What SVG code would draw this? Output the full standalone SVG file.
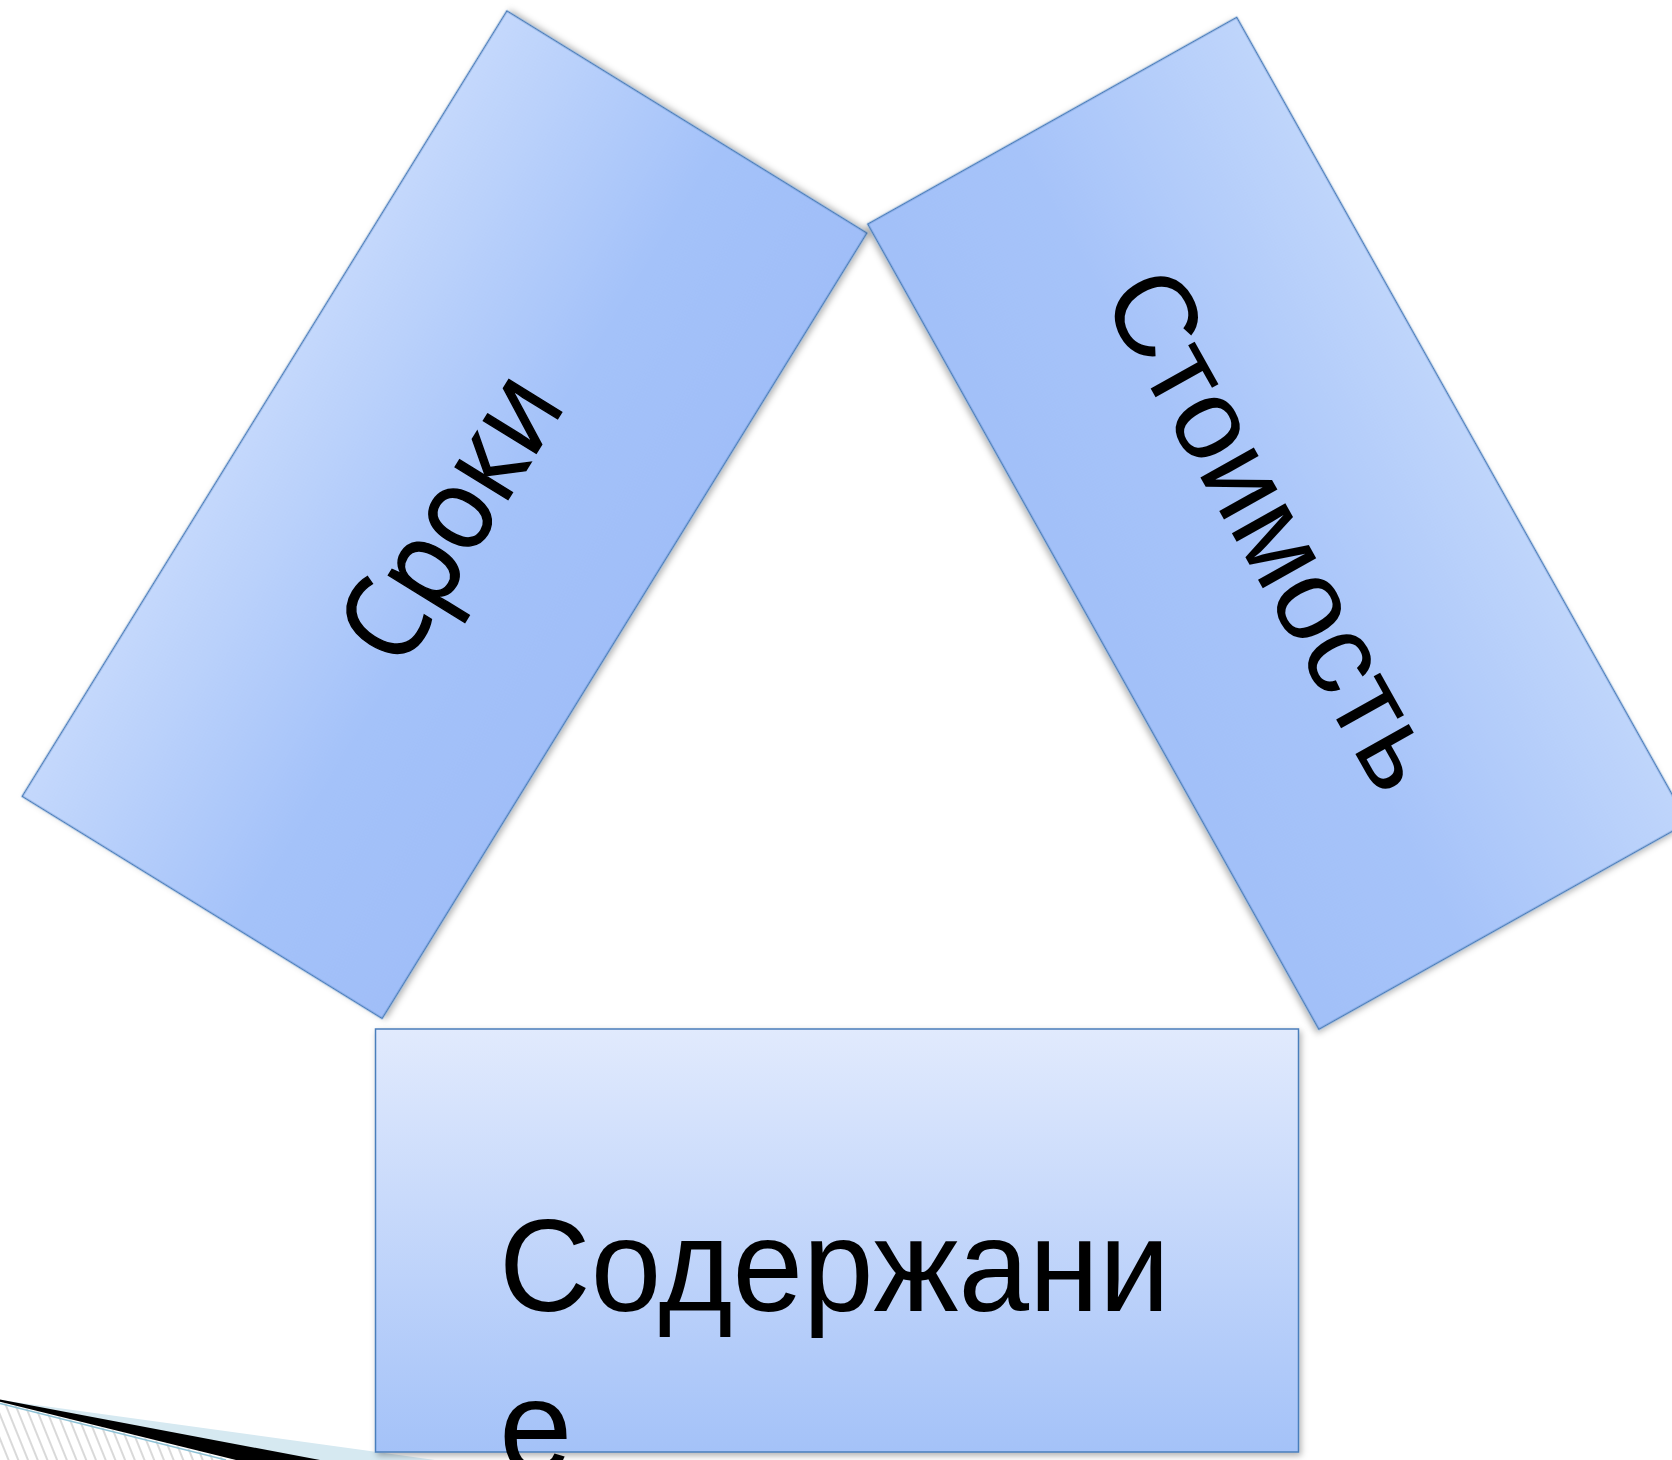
<svg xmlns="http://www.w3.org/2000/svg" width="1672" height="1460" viewBox="0 0 1672 1460">
  <style>
    .box { stroke: #4a7ebb; stroke-width: 1.5; }
    .lbl { fill: #000000; }
    .calib { font-family: "Open Sans", "Noto Sans", "DejaVu Sans", sans-serif; }
    .arial { font-family: "Liberation Sans", Arial, sans-serif; }
  </style>
  <defs>
    <linearGradient id="gRotA" x1="0" y1="0" x2="0" y2="1">
      <stop offset="0" stop-color="#c4d8fc"/>
      <stop offset="0.6" stop-color="#a4c2f9"/>
      <stop offset="1" stop-color="#a0bef8"/>
    </linearGradient>
    <linearGradient id="gRotB" x1="0" y1="0" x2="0" y2="1">
      <stop offset="0" stop-color="#bfd5fb"/>
      <stop offset="0.6" stop-color="#a6c3f9"/>
      <stop offset="1" stop-color="#a2c0f8"/>
    </linearGradient>
    <linearGradient id="gFlat" x1="0" y1="0" x2="0" y2="1">
      <stop offset="0" stop-color="#e1eafd"/>
      <stop offset="1" stop-color="#a4c2f8"/>
    </linearGradient>
    <filter id="shadow" x="-10%" y="-10%" width="120%" height="120%">
      <feDropShadow dx="2" dy="3" stdDeviation="3" flood-color="#000000" flood-opacity="0.3"/>
    </filter>
    <pattern id="hatch" width="9" height="9" patternUnits="userSpaceOnUse" patternTransform="rotate(-22)">
      <line x1="1" y1="0" x2="1" y2="9" stroke="#b4b4b4" stroke-width="1"/>
    </pattern>
  </defs>

  <!-- bottom-left decoration -->
  <g id="decoration">
    <polygon points="0,1402 233,1460 0,1460" fill="#ffffff"/>
    <polygon points="0,1402 233,1460 0,1460" fill="url(#hatch)"/>
    <polygon points="0,1400 435,1460 300,1460" fill="#d6e9f1"/>
    <line x1="0" y1="1403.5" x2="226" y2="1460" stroke="#8ec2d6" stroke-width="1.5"/>
    <polygon points="0,1399.5 320,1460 236,1460 0,1401.8" fill="#000000"/>
  </g>

  <g id="connectors"></g>

  <g id="node-sroki" transform="translate(444.5,514.7) rotate(-58.32)">
    <rect class="box" x="-461.5" y="-211.5" width="923" height="423" fill="url(#gRotA)" filter="url(#shadow)"/>
    <text class="lbl calib" x="-156" y="46" font-size="116" textLength="314" lengthAdjust="spacingAndGlyphs" stroke="#000" stroke-width="1.5">Сроки</text>
  </g>

  <g id="node-stoimost" transform="translate(1277.8,523.3) rotate(60.74)">
    <rect class="box" x="-461.5" y="-211.5" width="923" height="423" fill="url(#gRotB)" filter="url(#shadow)"/>
    <text class="lbl arial" x="-284" y="45" font-size="116" textLength="575" lengthAdjust="spacingAndGlyphs">Стоимость</text>
  </g>

  <g id="node-soderzhanie">
    <rect class="box" x="375.5" y="1029" width="923" height="423" fill="url(#gFlat)" filter="url(#shadow)"/>
    <text class="lbl arial" x="499" y="1311" font-size="132" textLength="671" lengthAdjust="spacingAndGlyphs">Содержани</text>
    <text class="lbl arial" x="499" y="1472" font-size="132">е</text>
  </g>
</svg>
